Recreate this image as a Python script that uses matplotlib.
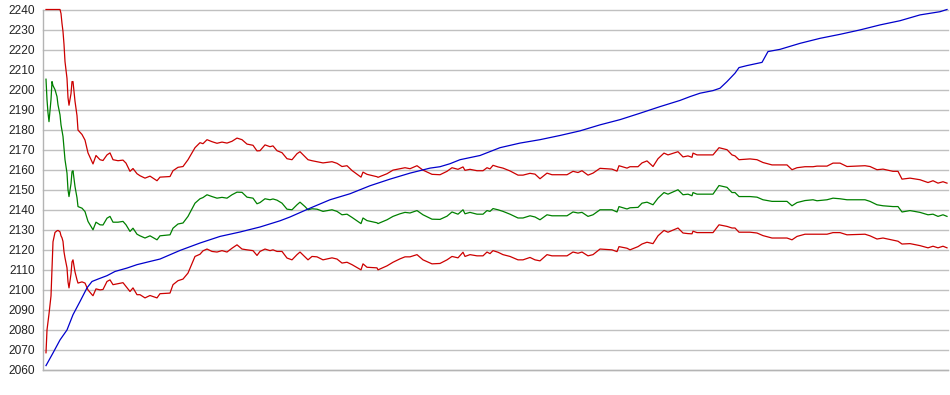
import matplotlib
matplotlib.use("Agg")
import matplotlib.pyplot as plt
import numpy as np

# bar index of each band sample
band_x = [0, 1, 2, 3, 5, 6, 7, 9, 11, 12, 14, 15, 16, 17, 18, 19, 21, 22, 23, 25,
          26, 27, 29, 31, 32, 36, 39, 42, 46, 47, 50, 54, 57, 61, 64, 67, 72, 77, 80, 84,
          87, 91, 94, 99, 104, 111, 114, 124, 127, 132, 137, 142, 149, 154, 157, 161, 166, 171, 176, 181,
          186, 191, 196, 201, 207, 211, 214, 219, 224, 227, 231, 236, 241, 246, 251, 254, 259, 262, 266, 271,
          277, 286, 291, 296, 301, 306, 315, 317, 321, 331, 332, 341, 347, 354, 359, 364, 371, 377, 386, 394,
          401, 406, 412, 417, 419, 424, 431, 437, 441, 444, 447, 452, 457, 464, 472, 477, 484, 489, 494, 501,
          506, 521, 527, 532, 536, 542, 547, 554, 566, 571, 573, 581, 584, 592, 596, 601, 607, 612, 618, 622,
          632, 637, 642, 646, 647, 651, 667, 673, 681, 686, 689, 693, 704, 711, 717, 726, 741, 746, 751, 759,
          767, 771, 781, 787, 794, 801, 819, 824, 831, 837, 847, 852, 856, 864, 874, 882, 887, 892, 897, 901]

upper = [2240, 2240, 2240, 2240, 2240, 2240, 2240, 2240, 2240, 2240, 2240, 2238, 2233, 2229, 2222.6, 2214, 2205.6, 2196, 2192.2, 2198,
         2204, 2204, 2194.2, 2187, 2179.8, 2177.6, 2174.8, 2168.4, 2164, 2162.9, 2167.1, 2165, 2164.6, 2167.4, 2168.4, 2165, 2164.5, 2164.8, 2163.3, 2159.2,
         2160.6, 2158, 2157, 2155.8, 2156.8, 2154.5, 2156.3, 2156.6, 2159.5, 2161.2, 2161.6, 2165, 2171, 2173.5, 2173, 2175, 2174, 2173.2, 2173.8, 2173.3,
         2174.2, 2175.8, 2175, 2172.8, 2172.2, 2169.4, 2169.5, 2172.4, 2171.5, 2171.9, 2169.5, 2168.5, 2165.5, 2165, 2168, 2169, 2166.5, 2165, 2164.5, 2164,
         2163.4, 2164, 2163.2, 2161.6, 2162, 2159.6, 2156.3, 2158.8, 2157.7, 2156.5, 2156.2, 2158, 2159.8, 2160.5, 2161, 2160.5, 2162, 2159.8, 2157.7, 2157.5,
         2159.2, 2161, 2160.2, 2161.4, 2159.7, 2160.2, 2159.5, 2159.5, 2161, 2160.4, 2162.2, 2161.4, 2160.8, 2159.4, 2157.3, 2157.3, 2158.2, 2157.8, 2155.5, 2158.3,
         2157.5, 2157.5, 2159.2, 2158.6, 2159.5, 2157.3, 2158.3, 2160.7, 2160.3, 2159.3, 2162, 2160.8, 2161.5, 2161.5, 2163.4, 2164.4, 2161.6, 2165.5, 2168.3, 2167.4,
         2169, 2166.4, 2166.9, 2166.2, 2168.3, 2167.4, 2167.4, 2171, 2170, 2167.4, 2166.9, 2165, 2165.4, 2165, 2163.6, 2162.4, 2162.4, 2160, 2161, 2161.5,
         2161.5, 2161.8, 2161.8, 2163.3, 2163.3, 2161.6, 2162, 2161.6, 2160, 2160.3, 2159.2, 2159.2, 2155.3, 2155.8, 2155, 2153.6, 2154.5, 2153.3, 2154, 2153.3]

middle = [2205.2, 2195, 2188.4, 2184, 2195, 2204, 2202, 2200, 2196.5, 2192.4, 2187.4, 2182.4, 2179.5, 2176.6, 2170.8, 2165, 2158.3, 2150, 2146.6, 2153,
          2159, 2159.5, 2151.6, 2146, 2141.6, 2140.8, 2139.1, 2134.2, 2130.8, 2130, 2133.8, 2132.5, 2132.4, 2135.8, 2136.7, 2133.8, 2133.8, 2134.2, 2132.5, 2129.2,
          2130.8, 2127.8, 2127, 2125.9, 2127, 2125, 2127, 2127.5, 2130.8, 2132.9, 2133.4, 2136.7, 2143.3, 2145.5, 2146.1, 2147.5, 2146.6, 2145.8, 2146.2, 2145.8,
          2147.5, 2148.8, 2148.7, 2146.3, 2145.8, 2143, 2143.6, 2145.5, 2145, 2145.4, 2144.8, 2143.3, 2140.3, 2140, 2142.5, 2143.8, 2141.6, 2140, 2140.5, 2140.3,
          2139.2, 2140, 2139.2, 2137.5, 2137.8, 2136.2, 2133.1, 2135.9, 2134.6, 2133.5, 2133.1, 2135, 2136.7, 2138, 2138.7, 2138.4, 2139.6, 2137.5, 2135.3, 2135.2,
          2136.8, 2138.9, 2137.8, 2140, 2138, 2138.7, 2137.8, 2137.8, 2139.6, 2139.2, 2140.6, 2140, 2139.2, 2137.8, 2135.9, 2135.9, 2137, 2136.4, 2135, 2137.5,
          2137, 2137, 2138.9, 2138.4, 2138.7, 2136.7, 2137.5, 2140, 2140, 2138.9, 2141.6, 2140.4, 2141, 2141.2, 2143.3, 2143.8, 2142.5, 2145.8, 2148.6, 2147.8,
          2150, 2147.5, 2147.8, 2147, 2148.6, 2147.8, 2147.8, 2152.1, 2151.2, 2148.6, 2148.6, 2146.6, 2146.6, 2146.3, 2145, 2144.2, 2144.2, 2142, 2143.6, 2144.6,
          2145, 2144.5, 2145, 2145.8, 2145.5, 2145, 2145, 2144.2, 2142.5, 2142, 2141.6, 2141.6, 2138.9, 2139.6, 2138.7, 2137.5, 2137.8, 2136.7, 2137.5, 2136.7]

lower = [2068.6, 2080, 2084, 2088, 2097, 2110, 2124, 2128.7, 2129.5, 2129.7, 2129, 2127, 2126, 2124.2, 2119, 2116, 2111, 2104, 2101, 2108,
         2114, 2115, 2109, 2105, 2103.4, 2104, 2103.4, 2100, 2097.6, 2097.1, 2100.5, 2100, 2100.2, 2104.2, 2105, 2102.6, 2103.1, 2103.6, 2101.7, 2099.2,
         2101, 2097.6, 2097.6, 2096, 2097.2, 2096, 2098.1, 2098.4, 2102.6, 2104.6, 2105.4, 2108.4, 2116.7, 2117.8, 2119.5, 2120.4, 2119.2, 2118.9, 2119.6, 2118.9,
         2120.8, 2122.5, 2120.4, 2120, 2119.6, 2117.2, 2119.2, 2120.4, 2119.6, 2120, 2119.2, 2119.2, 2115.9, 2115, 2117.6, 2118.9, 2116.5, 2115, 2116.7, 2116.5,
         2115, 2116, 2115.4, 2113.4, 2113.8, 2112.6, 2110, 2113, 2111.3, 2111, 2110, 2112, 2113.8, 2115.5, 2116.5, 2116.5, 2117.6, 2115, 2113, 2113.2,
         2115, 2116.7, 2116, 2118.8, 2116.7, 2117.6, 2117, 2117, 2118.9, 2118.1, 2119.6, 2118.8, 2117.6, 2116.7, 2115, 2115, 2116.2, 2115, 2114.5, 2117.6,
         2117, 2117, 2118.9, 2118.3, 2118.9, 2117, 2117.6, 2120.4, 2120, 2119.1, 2121.6, 2120.8, 2120, 2121.6, 2122.9, 2123.8, 2123.1, 2127, 2129.7, 2128.8,
         2130.9, 2128.4, 2128.1, 2128, 2129.3, 2128.6, 2128.6, 2132.5, 2131.7, 2130.9, 2130.9, 2128.8, 2128.8, 2128.4, 2127.1, 2125.9, 2125.9, 2125, 2126.7, 2127.8,
         2127.8, 2127.8, 2127.8, 2128.6, 2128.6, 2127.5, 2127.8, 2127, 2125.4, 2125.9, 2124.8, 2124.3, 2122.9, 2123.1, 2122.1, 2121, 2121.8, 2121, 2121.8, 2121]

trend_x = [0, 7, 14, 21, 27, 34, 41, 46, 52, 61, 69, 81, 91, 104, 114, 134, 154, 174, 194, 214,
           234, 244, 254, 264, 284, 304, 324, 344, 364, 384, 394, 404, 414, 434, 454, 474, 494, 514, 534, 554,
           574, 594, 614, 634, 644, 654, 667, 674, 681, 689, 693, 701, 716, 722, 734, 754, 774, 794, 814, 834,
           854, 874, 894, 901]
trend = [2062.2, 2068.5, 2075, 2080, 2087.6, 2094.2, 2101, 2104.2, 2105.4, 2107.1, 2109.2, 2110.9, 2112.6, 2114.2, 2115.4, 2119.7, 2123.4, 2126.7, 2128.9, 2131.4,
         2134.5, 2136.4, 2138.6, 2140.8, 2145, 2148, 2152, 2155.3, 2158.3, 2160.8, 2161.5, 2163, 2165, 2167.1, 2171, 2173.3, 2175, 2177.1, 2179.4, 2182.4,
         2185, 2188.2, 2191.5, 2194.6, 2196.5, 2198.2, 2199.5, 2200.7, 2204, 2208.2, 2211, 2212, 2213.6, 2219, 2220.1, 2223.1, 2225.6, 2227.6, 2229.8, 2232.3,
         2234.4, 2237.3, 2238.9, 2240]

y_ticks = np.arange(2060, 2241, 10)

plt.rcParams["font.family"] = ["Liberation Sans", "DejaVu Sans"]

fig = plt.figure(figsize=(9.5, 3.95), dpi=100)
ax = fig.add_axes([43 / 950, 1 - 370 / 395, 905 / 950, 360.5 / 395])

lw = 0.9
ax.plot(band_x, lower, color="#cc0000", linewidth=lw)
ax.plot(band_x, middle, color="#008000", linewidth=lw)
ax.plot(band_x, upper, color="#cc0000", linewidth=lw)
ax.plot(trend_x, trend, color="#0000cc", linewidth=lw)

ax.set_xlim(-3, 902)
ax.set_ylim(2060, 2240)
ax.set_yticks(y_ticks)
ax.set_xticks([])
ax.tick_params(axis="y", length=0, pad=6, labelsize=8.6, labelcolor="#222222")
ax.grid(axis="y", color="#c0c0c0", linewidth=1.0)
ax.set_axisbelow(True)
for side in ("top", "right"):
    ax.spines[side].set_visible(False)
for side in ("left", "bottom"):
    ax.spines[side].set_color("#b4b4b4")
    ax.spines[side].set_linewidth(1.0)
for line in ax.get_ygridlines():
    line.set_clip_on(False)
for line in ax.get_lines():
    line.set_clip_on(False)

fig.savefig("out.png", dpi=100)
